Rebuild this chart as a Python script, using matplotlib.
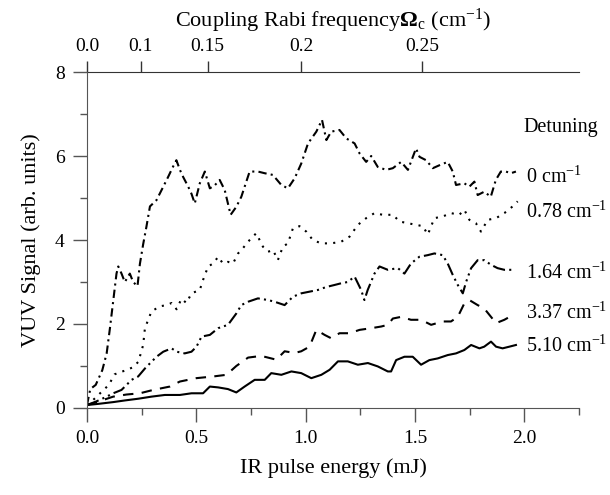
# VUV signal vs IR pulse energy for several detunings

import numpy as np
import matplotlib
matplotlib.use("Agg")
import matplotlib.pyplot as plt

plt.rcParams['font.family'] = ['Liberation Serif', 'DejaVu Serif']
plt.rcParams['mathtext.fontset'] = 'custom'
plt.rcParams['mathtext.rm'] = 'Liberation Serif'
plt.rcParams['mathtext.it'] = 'Liberation Serif:italic'
plt.rcParams['mathtext.bf'] = 'Liberation Serif:bold'

# 0 cm-1
e0 = [0.0, 0.015, 0.04, 0.07, 0.09, 0.105, 0.12, 0.135, 0.143, 0.158, 0.173, 0.196, 0.211, 0.231,
      0.242, 0.257, 0.272, 0.288, 0.318, 0.349, 0.371, 0.394, 0.409, 0.425, 0.44, 0.463, 0.478,
      0.493, 0.516, 0.539, 0.562, 0.584, 0.607, 0.63, 0.657, 0.683, 0.706, 0.744, 0.782, 0.813,
      0.85, 0.889, 0.919, 0.95, 0.98, 1.011, 1.049, 1.075, 1.095, 1.117, 1.155, 1.186, 1.224,
      1.247, 1.277, 1.3, 1.33, 1.368, 1.399, 1.437, 1.468, 1.505, 1.521, 1.551, 1.582, 1.612,
      1.65, 1.673, 1.688, 1.726, 1.749, 1.772, 1.787, 1.817, 1.847, 1.87, 1.893, 1.916, 1.939, 1.962]
s0 = [0.07, 0.45, 0.55, 0.9, 1.3, 1.9, 2.55, 3.2, 3.37, 3.2, 3.0, 3.2, 3.0, 2.9,
      3.43, 3.9, 4.32, 4.8, 4.95, 5.27, 5.5, 5.75, 5.9, 5.67, 5.5, 5.27, 5.1,
      4.87, 5.35, 5.63, 5.23, 5.3, 5.43, 5.19, 4.6, 4.79, 5.03, 5.63, 5.63, 5.59,
      5.55, 5.31, 5.23, 5.47, 5.82, 6.3, 6.58, 6.86, 6.38, 6.58, 6.62, 6.42, 6.3,
      6.06, 5.86, 6.0, 5.74, 5.67, 5.71, 5.86, 5.67, 6.18, 5.98, 5.9, 5.71, 5.78,
      5.86, 5.63, 5.31, 5.35, 5.27, 5.39, 5.07, 5.15, 5.03, 5.43, 5.63, 5.63, 5.59, 5.63]

# 0.78 cm-1
e1 = [0.0, 0.02, 0.05, 0.08, 0.1, 0.126, 0.15, 0.18, 0.21, 0.235, 0.257, 0.265, 0.28, 0.295,
      0.311, 0.333, 0.364, 0.387, 0.41, 0.432, 0.455, 0.478, 0.516, 0.531, 0.554, 0.577, 0.6,
      0.622, 0.645, 0.668, 0.691, 0.706, 0.744, 0.774, 0.805, 0.828, 0.851, 0.873, 0.896, 0.919,
      0.942, 0.972, 1.003, 1.033, 1.071, 1.117, 1.163, 1.201, 1.239, 1.277, 1.315, 1.353, 1.399,
      1.43, 1.468, 1.506, 1.536, 1.559, 1.589, 1.627, 1.665, 1.703, 1.726, 1.749, 1.779, 1.802,
      1.833, 1.871, 1.909, 1.947, 1.97]
s1 = [0.07, 0.15, 0.3, 0.45, 0.55, 0.8, 0.85, 0.9, 0.97, 1.1, 1.5, 1.9, 2.1, 2.3,
      2.35, 2.42, 2.45, 2.5, 2.35, 2.6, 2.5, 2.73, 2.81, 3.05, 3.37, 3.44, 3.6,
      3.44, 3.48, 3.44, 3.68, 3.76, 4.0, 4.16, 3.84, 3.72, 3.76, 3.52, 3.84, 3.92,
      4.28, 4.33, 4.2, 4.0, 3.92, 3.92, 3.96, 4.08, 4.36, 4.52, 4.64, 4.6, 4.6,
      4.44, 4.4, 4.36, 4.33, 4.13, 4.52, 4.56, 4.64, 4.6, 4.72, 4.48, 4.4, 4.2,
      4.48, 4.52, 4.64, 4.8, 4.92]

# 1.64 cm-1
e2 = [0.0, 0.04, 0.082, 0.12, 0.158, 0.204, 0.234, 0.265, 0.295, 0.318, 0.349, 0.387, 0.41,
      0.447, 0.478, 0.501, 0.524, 0.562, 0.6, 0.645, 0.683, 0.706, 0.737, 0.782, 0.828, 0.858,
      0.904, 0.942, 0.98, 1.018, 1.056, 1.094, 1.133, 1.163, 1.193, 1.224, 1.254, 1.269, 1.284,
      1.315, 1.338, 1.376, 1.422, 1.452, 1.482, 1.52, 1.559, 1.589, 1.627, 1.65, 1.673, 1.696,
      1.719, 1.734, 1.757, 1.787, 1.817, 1.848, 1.878, 1.909, 1.947]
s2 = [0.07, 0.15, 0.25, 0.35, 0.43, 0.67, 0.75, 0.94, 1.1, 1.22, 1.34, 1.42, 1.34,
      1.3, 1.34, 1.46, 1.7, 1.74, 1.9, 1.98, 2.25, 2.45, 2.53, 2.61, 2.57, 2.53,
      2.45, 2.65, 2.73, 2.77, 2.81, 2.88, 2.93, 2.97, 3.0, 3.13, 2.81, 2.57, 2.81,
      3.2, 3.37, 3.29, 3.33, 3.2, 3.44, 3.6, 3.64, 3.68, 3.64, 3.44, 3.17, 2.93,
      2.73, 3.0, 3.33, 3.52, 3.52, 3.41, 3.33, 3.29, 3.29]

# 3.37 cm-1
e3 = [0.0, 0.05, 0.12, 0.18, 0.242, 0.303, 0.379, 0.425, 0.5, 0.577, 0.638, 0.683, 0.737,
      0.797, 0.866, 0.904, 0.95, 0.98, 1.018, 1.049, 1.087, 1.117, 1.155, 1.201, 1.247, 1.3,
      1.346, 1.376, 1.399, 1.437, 1.482, 1.528, 1.574, 1.627, 1.665, 1.696, 1.726, 1.749,
      1.787, 1.817, 1.848, 1.871, 1.909, 1.947]
s3 = [0.07, 0.15, 0.27, 0.32, 0.35, 0.43, 0.51, 0.63, 0.71, 0.75, 0.79, 1.0, 1.2,
      1.24, 1.15, 1.35, 1.31, 1.35, 1.46, 1.86, 1.74, 1.66, 1.78, 1.78, 1.86, 1.9,
      1.94, 1.98, 2.13, 2.17, 2.1, 2.1, 1.98, 2.06, 2.06, 2.17, 2.49, 2.57,
      2.45, 2.37, 2.17, 2.02, 2.1, 2.21]

# 5.10 cm-1
e4 = [0.0, 0.055, 0.12, 0.174, 0.234, 0.295, 0.356, 0.425, 0.478, 0.531, 0.562, 0.6, 0.645,
      0.683, 0.721, 0.767, 0.813, 0.843, 0.889, 0.935, 0.98, 1.026, 1.072, 1.11, 1.148, 1.193,
      1.239, 1.285, 1.33, 1.376, 1.391, 1.414, 1.452, 1.49, 1.528, 1.566, 1.604, 1.65, 1.688,
      1.726, 1.757, 1.795, 1.817, 1.848, 1.871, 1.901, 1.932, 1.962]
s4 = [0.07, 0.1, 0.14, 0.18, 0.22, 0.27, 0.31, 0.31, 0.35, 0.35, 0.51, 0.49, 0.45,
      0.37, 0.51, 0.67, 0.67, 0.83, 0.79, 0.87, 0.83, 0.71, 0.79, 0.91, 1.11, 1.11,
      1.03, 1.07, 0.99, 0.87, 0.87, 1.14, 1.22, 1.22, 1.03, 1.14, 1.18, 1.26, 1.3,
      1.38, 1.5, 1.42, 1.46, 1.58, 1.46, 1.42, 1.46, 1.5]

labels = ['0', '0.78', '1.64', '3.37', '5.10']
label_y = [5.5, 4.67, 3.2, 2.25, 1.46]
styles = [(0, (4, 2, 1, 2)), (0, (1, 3)), (0, (6, 2, 1, 2, 1, 2)), (0, (5, 4)), '-']

rabi_ticks = [0.0, 0.1, 0.15, 0.2, 0.25]
rabi_labels = ['0.0', '0.1', '0.15', '0.2', '0.25']

fig = plt.figure(figsize=(6.1, 4.95), dpi=100)
ax = fig.add_axes([0.1426, 0.1758, 0.8064, 0.6787])

for e, s, ls in zip([e0, e1, e2, e3, e4], [s0, s1, s2, s3, s4], styles):
    ax.plot(e, s, color='black', lw=1.5, linestyle=ls)

ax.set_xlim(0, 2.25)
ax.set_ylim(0, 8)
ax.set_xticks([0, 0.5, 1.0, 1.5, 2.0])
ax.set_xticklabels(['0.0', '0.5', '1.0', '1.5', '2.0'])
ax.set_xticks(np.arange(0.25, 2.3, 0.5), minor=True)
ax.set_yticks([0, 2, 4, 6, 8])
ax.set_yticks([1, 3, 5, 7], minor=True)
ax.tick_params(which='major', direction='out', length=10, width=1, color='#555555', labelsize=14, pad=6)
ax.tick_params(which='minor', direction='out', length=5, width=1, color='#555555')
for sp in ['top', 'right']:
    ax.spines[sp].set_visible(False)
for sp in ['left', 'bottom']:
    ax.spines[sp].set_color('#555555')

ax.set_xlabel('IR pulse energy (mJ)', fontsize=16, labelpad=8)
ax.set_ylabel('VUV Signal (arb. units)', fontsize=16, labelpad=10)

# top axis: Rabi frequency, E ~ 24.5 * Omega^2
secax = ax.secondary_xaxis('top', functions=(lambda x: np.sqrt(np.clip(x, 0, None) / 24.5),
                                             lambda w: 24.5 * np.asarray(w) ** 2))
secax.set_xticks(rabi_ticks)
secax.set_xticklabels(rabi_labels)
secax.tick_params(direction='out', length=8, width=1, color='#333333', labelsize=14, pad=4)
secax.spines['top'].set_color('#333333')
secax.set_xlabel('Coupling Rabi frequency$\\mathbf{\\Omega}_\\mathrm{c}$ (cm$^{-1}$)', fontsize=16, labelpad=8)

ax.text(1.995, 6.67, 'Detuning', fontsize=14.5, va='center', ha='left')
for lab, yy in zip(labels, label_y):
    ax.text(2.01, yy, lab + ' cm$^{\\mathregular{-1}}$', fontsize=14.5, va='center', ha='left')

fig.savefig('out.png', dpi=100)
